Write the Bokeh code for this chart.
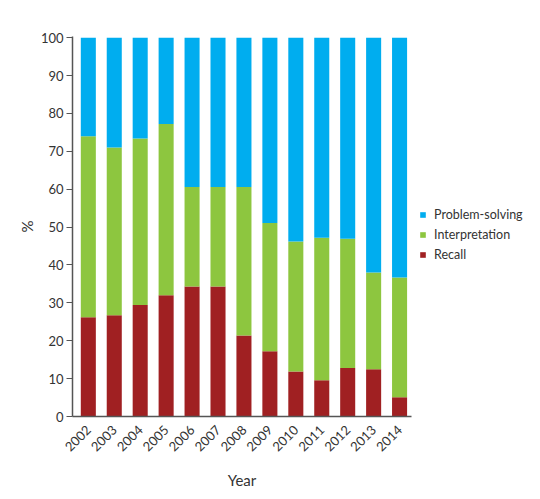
from bokeh.plotting import figure
from bokeh.models import ColumnDataSource, Range1d, Legend, LegendItem, FixedTicker
from bokeh.embed import file_html
from bokeh.resources import INLINE
import math

years = [2002, 2003, 2004, 2005, 2006, 2007, 2008, 2009, 2010, 2011, 2012, 2013, 2014]
year_labels = [str(y) for y in years]
recall = [26.2, 26.7, 29.4, 32.0, 34.3, 34.3, 21.4, 17.2, 11.9, 9.6, 12.8, 12.5, 5.1]
recall_plus_interp = [74.0, 71.0, 73.4, 77.2, 60.6, 60.6, 60.6, 51.1, 46.2, 47.2, 46.9, 38.0, 36.7]
interpretation = [round(t - r, 1) for t, r in zip(recall_plus_interp, recall)]
problem_solving = [round(100 - t, 1) for t in recall_plus_interp]

series = ["Recall", "Interpretation", "Problem-solving"]
colors = ["#A02022", "#8DC63F", "#00ADEF"]

source = ColumnDataSource(dict(year=years, Recall=recall, Interpretation=interpretation,
                               **{"Problem-solving": problem_solving}))

FONT = "Lato"
p = figure(frame_width=339, frame_height=380, output_backend="svg", toolbar_location=None,
           x_range=Range1d(2001.39, 2014.46), y_range=Range1d(0, 100.3),
           min_border_left=72, min_border_right=110, min_border_top=36, min_border_bottom=66)
p.outline_line_color = None
p.grid.grid_line_color = None

renderers = p.vbar_stack(series, x="year", width=0.58, color=colors, source=source, line_width=0)

p.xaxis.ticker = FixedTicker(ticks=years)
p.xaxis.major_label_overrides = {y: s for y, s in zip(years, year_labels)}
p.xaxis.major_label_orientation = math.pi / 4
p.xaxis.minor_tick_line_color = None
p.xaxis.axis_label = "Year"
p.xaxis.axis_label_standoff = 12

p.yaxis.ticker = FixedTicker(ticks=list(range(0, 101, 10)))
p.yaxis.minor_tick_line_color = None
p.yaxis.major_tick_in = 0
p.yaxis.major_tick_out = 6
p.yaxis.major_label_standoff = 3
p.yaxis.axis_label = "%"
p.yaxis.axis_label_standoff = 2

for ax in (p.xaxis, p.yaxis):
    ax.axis_line_color = "#555555"
    ax.axis_line_width = 1.5
    ax.major_label_text_font = FONT
    ax.major_label_text_font_size = "13px"
    ax.major_label_text_color = "#333333"
    ax.axis_label_text_font = FONT
    ax.axis_label_text_font_size = "15px"
    ax.axis_label_text_font_style = "normal"
    ax.axis_label_text_color = "#333333"
p.yaxis.major_tick_line_color = "#555555"
p.xaxis.major_tick_line_color = None

items = [LegendItem(label=s, renderers=[r]) for s, r in zip(series, renderers)][::-1]
legend = Legend(items=items, location=(8, 154), orientation="vertical",
                glyph_width=7, glyph_height=7, label_standoff=8, spacing=5,
                padding=0, margin=0, border_line_color=None, background_fill_alpha=0,
                label_text_font=FONT, label_text_font_size="12.5px", label_text_color="#333333",
                label_height=15)
p.add_layout(legend, "right")

open("out.html", "w").write(file_html(p, INLINE))
